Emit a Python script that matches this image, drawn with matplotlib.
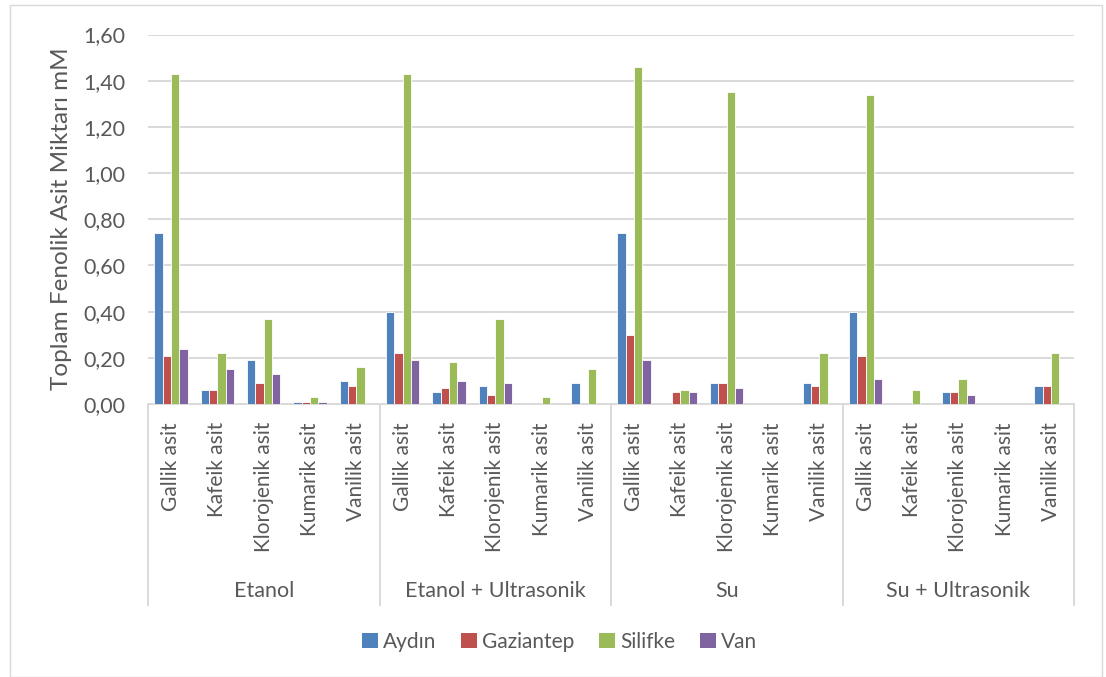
import matplotlib
matplotlib.use("Agg")
import matplotlib.pyplot as plt
import matplotlib.transforms as mtransforms
from matplotlib.patches import Rectangle, Patch
from matplotlib.lines import Line2D
import numpy as np

plt.rcParams['font.family'] = ['Lato', 'DejaVu Sans']

methods = ["Etanol", "Etanol + Ultrasonik", "Su", "Su + Ultrasonik"]
acids = ["Gallik asit", "Kafeik asit", "Klorojenik asit", "Kumarik asit", "Vanilik asit"]
series_names = ["Aydın", "Gaziantep", "Silifke", "Van"]

# values per method, in acid order
aydin = [0.74, 0.06, 0.19, 0.01, 0.10,
         0.40, 0.05, 0.08, 0.00, 0.09,
         0.74, 0.00, 0.09, 0.00, 0.09,
         0.40, 0.00, 0.05, 0.00, 0.08]
gaziantep = [0.21, 0.06, 0.09, 0.01, 0.08,
             0.22, 0.07, 0.04, 0.00, 0.00,
             0.30, 0.05, 0.09, 0.00, 0.08,
             0.21, 0.00, 0.05, 0.00, 0.08]
silifke = [1.43, 0.22, 0.37, 0.03, 0.16,
           1.43, 0.18, 0.37, 0.03, 0.15,
           1.46, 0.06, 1.35, 0.00, 0.22,
           1.34, 0.06, 0.11, 0.00, 0.22]
van = [0.24, 0.15, 0.13, 0.01, 0.00,
       0.19, 0.10, 0.09, 0.00, 0.00,
       0.19, 0.05, 0.07, 0.00, 0.00,
       0.11, 0.00, 0.04, 0.00, 0.00]

y_ticks = [0.0, 0.2, 0.4, 0.6, 0.8, 1.0, 1.2, 1.4, 1.6]
y_label = "Toplam Fenolik Asit Miktarı mM"

colors = ["#4F81BD", "#C0504D", "#9BBB59", "#8064A2"]
text_color = "#595959"
grid_color = "#D9D9D9"

W, H = 1106, 677
fig = plt.figure(figsize=(W / 100, H / 100), dpi=100)
fig.patch.set_facecolor("white")

# chart area border
fig.patches.append(Rectangle((10 / W, 0.5 / H), (1102 - 10) / W, (672 - 0.5) / H,
                             transform=fig.transFigure, fill=False,
                             edgecolor="#D9D9D9", linewidth=1.0))

left, right, top, bottom = 148, 1074, 34.5, 404
ax = fig.add_axes([left / W, 1 - bottom / H, (right - left) / W, (bottom - top) / H])

values = [aydin, gaziantep, silifke, van]
n_cat = len(methods) * len(acids)
x = np.arange(n_cat)
bw = 0.18
for i, (name, vals, c) in enumerate(zip(series_names, values, colors)):
    ax.bar(x + (i - 1.5) * bw, vals, width=bw, color=c, edgecolor="white",
           linewidth=0.6, label=name, zorder=3)

ax.set_xlim(-0.5, n_cat - 0.5)
ax.set_ylim(0, 1.6)
ax.set_yticks(y_ticks)
ax.set_yticklabels([f"{v:.2f}".replace(".", ",") for v in y_ticks])
ax.yaxis.grid(True, color=grid_color, linewidth=1.4, zorder=0)
ax.set_axisbelow(True)
for s in ["left", "right", "top"]:
    ax.spines[s].set_visible(False)
ax.spines["bottom"].set_color(grid_color)
ax.spines["bottom"].set_linewidth(1.4)
ax.tick_params(axis="y", length=0, pad=16, labelsize=15.5, labelcolor=text_color)

ax.set_xticks(x)
ax.set_xticklabels(acids * len(methods), rotation=90, va="top", ha="center")
ax.tick_params(axis="x", length=0, pad=13, labelsize=15, labelcolor=text_color)

# group separators and group labels below the category labels
trans = mtransforms.blended_transform_factory(ax.transData, ax.transAxes)
sep_bottom = -(605 - bottom) / (bottom - top)
for b in np.arange(-0.5, n_cat, len(acids)):
    ax.add_line(Line2D([b, b], [0, sep_bottom], transform=trans, color=grid_color,
                       linewidth=1.4, clip_on=False))
label_y = -(591 - bottom) / (bottom - top)
for k, m in enumerate(methods):
    ax.text(k * len(acids) + (len(acids) - 1) / 2, label_y, m, transform=trans,
            ha="center", va="center", fontsize=15.5, color=text_color)

fig.text(62 / W, 1 - 219 / H, y_label, rotation=90, ha="center", va="center",
         fontsize=17.5, color=text_color)

handles = [Patch(facecolor=c, edgecolor="none") for c in colors]
leg = fig.legend(handles, series_names, loc="center", bbox_to_anchor=(0.506, 1 - 642 / H),
                 ncol=4, frameon=False, fontsize=15, handlelength=0.75, handleheight=0.75,
                 handletextpad=0.25, columnspacing=1.2)
for t in leg.get_texts():
    t.set_color(text_color)

fig.savefig("out.png", dpi=100, facecolor="white")
